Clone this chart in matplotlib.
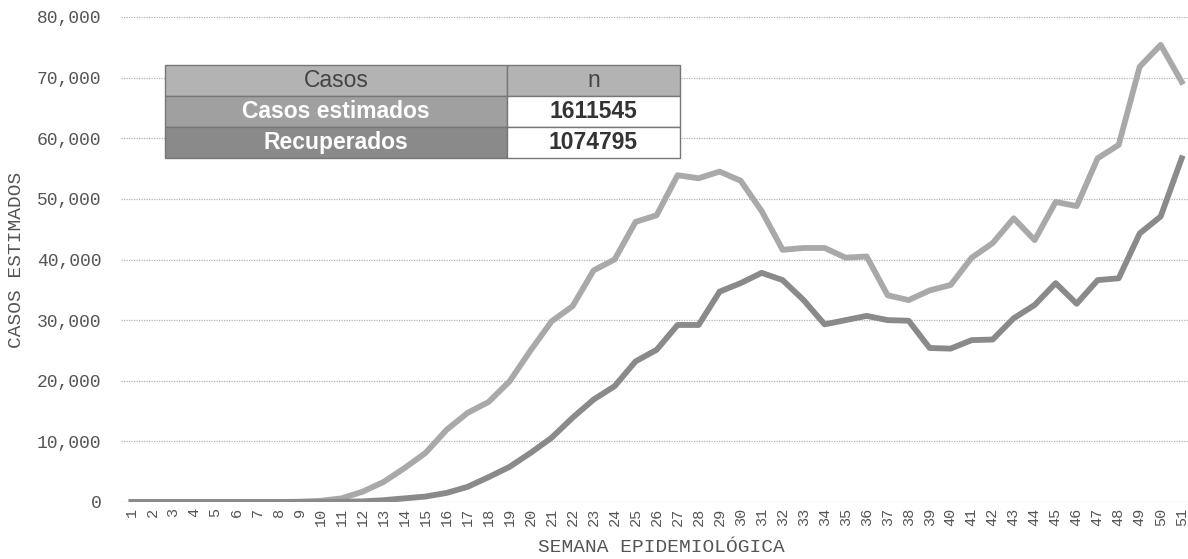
import matplotlib
matplotlib.use("Agg")
import matplotlib.pyplot as plt

weeks = list(range(1, 52))
casos_estimados = [0, 0, 0, 0, 0, 0, 0, 0, 50, 200, 600, 1700, 3300, 5600, 8100,
                   11900, 14700, 16500, 19900, 25000, 29800, 32300, 38200, 40000, 46200,
                   47300, 53900, 53400, 54500, 53000, 48000, 41600, 41900, 41900, 40300,
                   40500, 34100, 33300, 34900, 35800, 40300, 42700, 46800, 43200, 49500,
                   48800, 56700, 58900, 71800, 75400, 69300]
recuperados = [0, 0, 0, 0, 0, 0, 0, 0, 0, 0, 50, 100, 300, 600, 900,
               1500, 2500, 4100, 5800, 8100, 10600, 13900, 16900, 19100, 23200,
               25100, 29200, 29200, 34700, 36100, 37800, 36600, 33300, 29300, 30000,
               30700, 30000, 29900, 25400, 25300, 26700, 26800, 30300, 32500, 36100,
               32700, 36600, 36900, 44300, 47100, 56700]
y_ticks = [0, 10000, 20000, 30000, 40000, 50000, 60000, 70000, 80000]
table_header = ["Casos", "n"]
table_rows = ["Casos estimados", "Recuperados"]
table_values = ["1611545", "1074795"]

fig = plt.figure(figsize=(11.88, 5.59), dpi=100)
ax = fig.add_axes([121 / 1188, 1 - 502 / 559, 1 - 121 / 1188, (502 - 17) / 559])

ax.plot(weeks, casos_estimados, color="#a9a9a9", lw=4.2, solid_joinstyle="round", zorder=3)
ax.plot(weeks, recuperados, color="#8a8a8a", lw=4.2, solid_joinstyle="round", zorder=3)

ax.set_ylim(0, 80000)
ax.set_xlim(0.5, 51.3)
ax.set_yticks(y_ticks)
ax.set_yticklabels([f"{v:,}" for v in y_ticks], family="Liberation Mono",
                   fontsize=13, color="#555555")
ax.set_xticks(weeks)
ax.set_xticklabels([str(w) for w in weeks], rotation=90, family="Liberation Mono",
                   fontsize=11, color="#555555")
ax.tick_params(axis="both", length=0)
ax.tick_params(axis="y", pad=14)
ax.tick_params(axis="x", pad=4)
ax.grid(axis="y", linestyle=(0, (1, 1)), color="#b5b5b5", lw=0.9)
ax.set_axisbelow(True)
for s in ax.spines.values():
    s.set_visible(False)

ax.set_xlabel("SEMANA EPIDEMIOLÓGICA", family="Liberation Mono", fontsize=14,
              color="#555555")
ax.xaxis.set_label_coords((661 - 121) / 1067, -(548 - 502) / 485)
ax.xaxis.label.set_va("center")
ax.set_ylabel("CASOS ESTIMADOS", family="Liberation Mono", fontsize=14,
              color="#555555")
ax.yaxis.set_label_coords((17 - 121) / 1067, (502 - 260) / 485)
ax.yaxis.label.set_va("center")

cell_text = [table_header] + [[r, v] for r, v in zip(table_rows, table_values)]
tbl = ax.table(cellText=cell_text, cellLoc="center",
               colWidths=[0.664, 0.336],
               bbox=[(165 - 121) / 1067, (502 - 158) / 485, (680 - 165) / 1067, (158 - 65) / 485])
tbl.auto_set_font_size(False)
fills = {(0, 0): "#b3b3b3", (0, 1): "#b3b3b3", (1, 0): "#a0a0a0", (1, 1): "white",
         (2, 0): "#8a8a8a", (2, 1): "white"}
for (r, c), cell in tbl.get_celld().items():
    cell.set_facecolor(fills[(r, c)])
    cell.set_edgecolor("#777777")
    cell.set_linewidth(1.0)
    t = cell.get_text()
    t.set_fontfamily("Liberation Sans")
    t.set_fontsize(16.5)
    if r == 0:
        t.set_color("#444444")
    elif c == 0:
        t.set_color("white")
        t.set_fontweight("bold")
    else:
        t.set_color("#333333")
        t.set_fontweight("bold")
tbl.set_zorder(5)

fig.savefig("out.png", dpi=100, facecolor="white")
